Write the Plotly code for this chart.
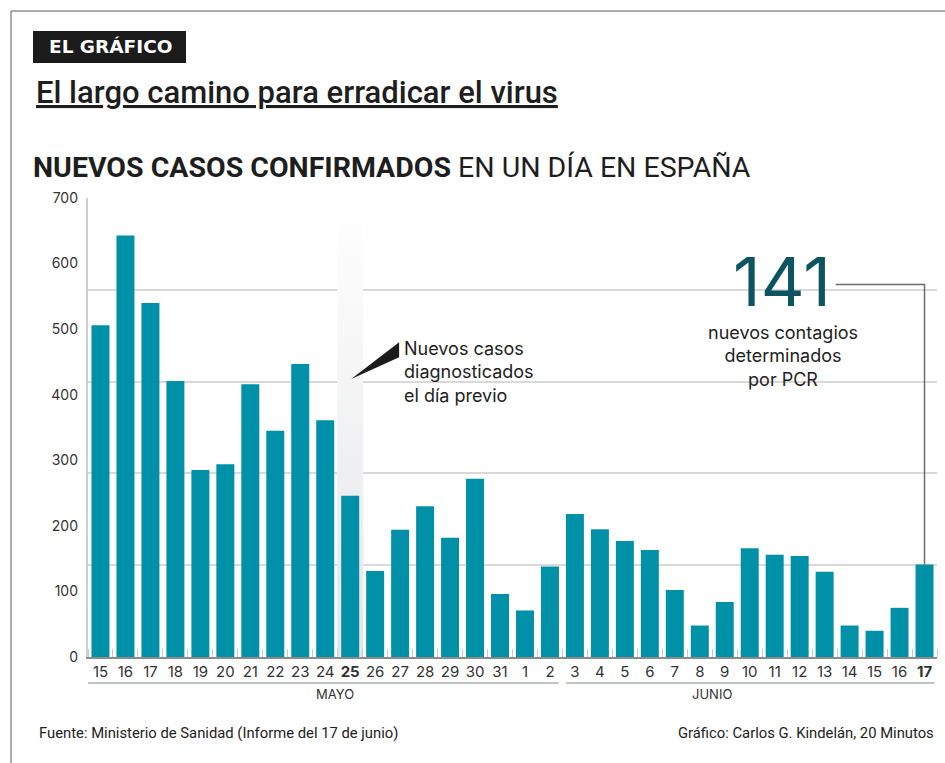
import plotly.graph_objects as go

# ---------------- data ----------------
day_labels = ["15", "16", "17", "18", "19", "20", "21", "22", "23", "24", "25", "26",
              "27", "28", "29", "30", "31", "1", "2", "3", "4", "5", "6", "7", "8",
              "9", "10", "11", "12", "13", "14", "15", "16", "17"]
new_cases = [506, 643, 540, 421, 285, 294, 416, 345, 447, 361, 246, 131,
             194, 230, 182, 272, 96, 71, 138, 218, 195, 177, 163, 102, 48,
             84, 166, 156, 154, 130, 48, 40, 75, 141]
month_names = ["MAYO", "JUNIO"]
y_tick_values = [0, 100, 200, 300, 400, 500, 600, 700]
highlight_index = 10          # "25" de mayo
last_index = len(new_cases) - 1

# ---------------- geometry helpers (pixel -> paper) ----------------
W, H = 945, 763
ML, MR, MT, MB = 88, 8, 198, 106
PW, PH = W - ML - MR, H - MT - MB
def px(x):
    return (x - ML) / PW
def py(y):
    return (H - MB - y) / PH

TEAL = "#0091a8"
DARK = "#1e1e1e"
TXT = "#333333"

xs = list(range(len(new_cases)))
ticktext = [f"<b>{d}</b>" if i in (highlight_index, last_index) else d
            for i, d in enumerate(day_labels)]

fig = go.Figure()

# highlighted column (gradient) on the grid axis (drawn below the bars)
hw = 0.52
fig.add_trace(go.Scatter(
    x=[highlight_index - hw, highlight_index + hw, highlight_index + hw, highlight_index - hw, highlight_index - hw],
    y=[0, 0, 692, 692, 0], yaxis="y",
    mode="lines", line=dict(width=0), fill="toself",
    fillgradient=dict(type="vertical",
                      colorscale=[[0, "#e4e5e7"], [1, "#ffffff"]]),
    hoverinfo="skip", showlegend=False))

fig.add_trace(go.Bar(x=xs, y=new_cases, yaxis="y2",
                     marker=dict(color=TEAL, line=dict(width=0)),
                     showlegend=False, hoverinfo="x+y"))

fig.update_layout(
    width=W, height=H,
    margin=dict(l=ML, r=MR, t=MT, b=MB),
    paper_bgcolor="white", plot_bgcolor="white",
    bargap=0.28,
    font=dict(family="Inter, Roboto, sans-serif", color=TXT),
    xaxis=dict(range=[-0.5, len(new_cases) - 0.5], tickmode="array", tickvals=xs,
               ticktext=ticktext, tickfont=dict(size=15, color=TXT),
               showgrid=False, zeroline=False, showline=True,
               linecolor="#8c8c8c", linewidth=2, ticks="",
               minor=dict(tick0=0.5, dtick=1, ticks="inside", ticklen=8,
                          tickcolor="#c8c8c8", tickwidth=1, showgrid=False)),
    yaxis=dict(range=[0, 700], tick0=0, dtick=140, showticklabels=False,
               showgrid=True, gridcolor="#d9d9d9", gridwidth=1.5,
               zeroline=False, showline=True, linecolor="#cfcfcf", linewidth=1.5,
               ticks=""),
    yaxis2=dict(range=[0, 700], overlaying="y", side="left", tickmode="array",
                tickvals=y_tick_values, tickfont=dict(size=14, color=TXT),
                showgrid=False, zeroline=False, showline=False, ticks="",
                ticklabelstandoff=9),
)

shapes = []
# article frame (top & left)
shapes.append(dict(type="line", xref="paper", yref="paper", x0=px(11), x1=px(945), y0=py(11), y1=py(11),
                   line=dict(color="#8f8f8f", width=1.5)))
shapes.append(dict(type="line", xref="paper", yref="paper", x0=px(11), x1=px(11), y0=py(11), y1=py(763),
                   line=dict(color="#8f8f8f", width=1.5)))
# EL GRÁFICO box
shapes.append(dict(type="rect", xref="paper", yref="paper", x0=px(33), x1=px(186), y0=py(31), y1=py(63),
                   fillcolor="#1b1b1b", line=dict(width=0)))
# month brackets
shapes.append(dict(type="line", xref="x", yref="paper", x0=-0.5, x1=18.35, y0=py(683), y1=py(683),
                   line=dict(color="#aab0b1", width=1.5)))
shapes.append(dict(type="line", xref="x", yref="paper", x0=18.65, x1=33.4, y0=py(683), y1=py(683),
                   line=dict(color="#aab0b1", width=1.5)))
# pointer wedge
shapes.append(dict(type="path", xref="x", yref="y",
                   path="M 10.04 424 L 11.96 480 L 11.96 457 Z",
                   fillcolor="#1b1b1b", line=dict(width=0)))
# connector to last bar
shapes.append(dict(type="path", xref="x", yref="y",
                   path=f"M {last_index} {new_cases[last_index]} L {last_index} 568 L 29.44 568",
                   line=dict(color="#6b6b6b", width=1.5)))
fig.update_layout(shapes=shapes)

ann = []
ann.append(dict(text="<b>EL GRÁFICO</b>", xref="paper", yref="paper", x=px(110), y=py(47),
                xanchor="center", yanchor="middle", showarrow=False,
                font=dict(family="DejaVu Sans, sans-serif", size=18.5, color="white")))
ann.append(dict(text="El largo camino para erradicar el virus", xref="paper", yref="paper",
                x=px(34), y=py(93), xanchor="left", yanchor="middle", showarrow=False,
                font=dict(family="Roboto, sans-serif", size=31, weight=500, color=DARK,
                          lineposition="under")))
ann.append(dict(text="<b>NUEVOS CASOS CONFIRMADOS</b> EN UN DÍA EN ESPAÑA", xref="paper", yref="paper",
                x=px(31), y=py(167), xanchor="left", yanchor="middle", showarrow=False,
                font=dict(family="Roboto, sans-serif", size=28.5, color=DARK)))
ann.append(dict(text="Nuevos casos<br>diagnosticados<br>el día previo", xref="paper", yref="paper",
                x=px(402), y=py(372), xanchor="left", yanchor="middle", align="left", showarrow=False,
                font=dict(family="Inter, sans-serif", size=18, color="#222222")))
ann.append(dict(text=str(new_cases[last_index]), xref="paper", yref="paper",
                x=px(782), y=py(281), xanchor="center", yanchor="middle", showarrow=False,
                font=dict(family="Inter, sans-serif", size=68, color="#0d5462")))
ann.append(dict(text="nuevos contagios<br>determinados<br>por PCR", xref="paper", yref="paper",
                x=px(783), y=py(356), xanchor="center", yanchor="middle", align="center", showarrow=False,
                font=dict(family="Inter, sans-serif", size=18, color="#222222")))
ann.append(dict(text=month_names[0], xref="x", yref="paper", x=9.4, y=py(694),
                xanchor="center", yanchor="middle", showarrow=False,
                font=dict(family="Inter, sans-serif", size=13, color=TXT)))
ann.append(dict(text=month_names[1], xref="x", yref="paper", x=24.5, y=py(694),
                xanchor="center", yanchor="middle", showarrow=False,
                font=dict(family="Inter, sans-serif", size=13, color=TXT)))
ann.append(dict(text="Fuente: Ministerio de Sanidad (Informe del 17 de junio)", xref="paper", yref="paper",
                x=px(37), y=py(733), xanchor="left", yanchor="middle", showarrow=False,
                font=dict(family="Roboto, sans-serif", size=14.8, color="#222222")))
ann.append(dict(text="Gráfico: Carlos G. Kindelán, 20 Minutos", xref="paper", yref="paper",
                x=px(936), y=py(733), xanchor="right", yanchor="middle", showarrow=False,
                font=dict(family="Roboto, sans-serif", size=14.8, color="#222222")))
fig.update_layout(annotations=ann)

fig.write_html("out.html", config={"displayModeBar": False},
               post_script="document.body.style.margin='0';")
